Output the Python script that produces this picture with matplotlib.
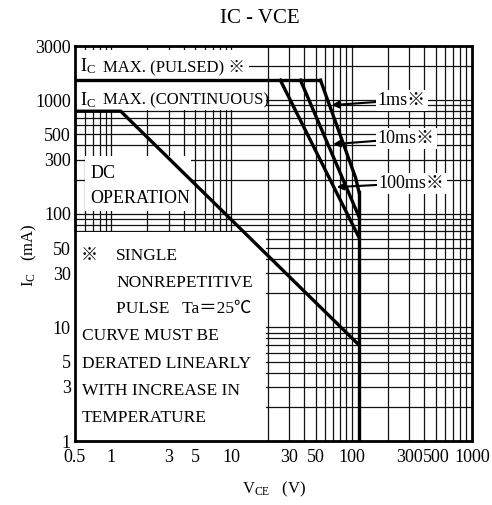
import matplotlib
matplotlib.use("Agg")
import matplotlib.pyplot as plt
import matplotlib.transforms as mtransforms
from matplotlib.ticker import LogLocator, FixedLocator, FixedFormatter, NullFormatter

FAM = ['Liberation Serif', 'Noto Sans CJK JP', 'DejaVu Sans']
plt.rcParams['font.family'] = FAM
plt.rcParams['mathtext.fontset'] = 'custom'
plt.rcParams['mathtext.rm'] = 'Liberation Serif'
plt.rcParams['mathtext.it'] = 'Liberation Serif'

# ---- data ----
x_ticks = [0.5, 1, 3, 5, 10, 30, 50, 100, 300, 500, 1000]
x_labels = ['0.5', '1', '3', '5', '10', '30', '50', '100', '300', '500', '1000']
y_ticks = [1, 3, 5, 10, 30, 50, 100, 300, 500, 1000, 3000]
y_labels = ['1', '3', '5', '10', '30', '50', '100', '300', '500', '1000', '3000']

dc_v = [0.5, 1.2, 115]
dc_i = [800, 800, 7]
pulse_v = [0.5, 55]
pulse_i = [1500, 1500]
ms100_v = [25.5, 115]
ms100_i = [1500, 62]
ms10_v = [37.5, 115]
ms10_i = [1500, 94]
ms1_v = [55, 108, 115]
ms1_i = [1500, 206, 155]
vmax_v = [115, 115]
vmax_i = [1, 155]

fig = plt.figure(figsize=(4.92, 5.05), dpi=100)
ax = fig.add_axes([0.1524, 0.1267, 0.9593 - 0.1524, 0.9089 - 0.1267])
ax.set_xscale('log')
ax.set_yscale('log')
ax.set_xlim(0.5, 1000)
ax.set_ylim(1, 3000)

ax.xaxis.set_major_locator(FixedLocator(x_ticks))
ax.xaxis.set_major_formatter(FixedFormatter(x_labels))
ax.yaxis.set_major_locator(FixedLocator(y_ticks))
ax.yaxis.set_major_formatter(FixedFormatter(y_labels))
ax.xaxis.set_minor_locator(LogLocator(base=10, subs=range(1, 10), numticks=20))
ax.yaxis.set_minor_locator(LogLocator(base=10, subs=range(1, 10), numticks=20))
ax.xaxis.set_minor_formatter(NullFormatter())
ax.yaxis.set_minor_formatter(NullFormatter())
ax.tick_params(which='both', length=0, labelsize=13)
ax.tick_params(axis='x', pad=6)
ax.tick_params(axis='y', pad=3)

ax.set_axisbelow(True)
ax.grid(which='both', color='#111111', linewidth=0.9)
for s in ax.spines.values():
    s.set_linewidth(2.0)

# white boxes masking the grid behind labels
def mask(x0, x1, y0, y1):
    ax.fill([x0, x1, x1, x0], [y0, y0, y1, y1], color='white', lw=0, zorder=1)

mask(0.5, 14, 1530, 2750)      # pulsed label
mask(0.5, 19.5, 820, 1480)     # continuous label
mask(0.6, 4.6, 105, 320)       # DC operation
mask(0.5, 19.5, 1, 69)         # note box

lw = 2.4
for v, i in [(dc_v, dc_i), (pulse_v, pulse_i), (ms100_v, ms100_i),
             (ms10_v, ms10_i), (ms1_v, ms1_i), (vmax_v, vmax_i)]:
    ax.plot(v, i, color='black', lw=lw, zorder=3, solid_joinstyle='miter')

fs = 13
fs_max = 12
fs_note = 12.5

def ic_label(x, y, rest):
    t1 = ax.text(x, y, r'$\mathrm{I_C}$', fontsize=13, va='baseline', ha='left', zorder=4)
    fig.canvas.draw()
    bb = t1.get_window_extent()
    trans = mtransforms.offset_copy(ax.transData, fig=fig,
                                    x=bb.width * 72 / fig.dpi + 5, y=0, units='points')
    ax.text(x, y, rest, transform=trans, fontsize=fs_max, va='baseline', ha='left', zorder=4)

ic_label(0.55, 1780, 'MAX. (PULSED) ※')
ic_label(0.55, 910, 'MAX. (CONTINUOUS)')

ax.text(0.67, 226, 'DC', fontsize=fs, va='center', ha='left', zorder=4)
ax.text(0.67, 136, 'OPERATION', fontsize=fs, va='center', ha='left', zorder=4)

note_y = [42.5, 24.8, 14.6, 8.4, 4.8, 2.75, 1.6]
ax.text(0.56, note_y[0], '※', fontsize=fs_note, va='center', ha='left', zorder=4)
ax.text(1.1, note_y[0], 'SINGLE', fontsize=fs_note, va='center', ha='left', zorder=4)
ax.text(1.1, note_y[1], 'NONREPETITIVE', fontsize=fs_note, va='center', ha='left', zorder=4)
ax.text(1.1, note_y[2], 'PULSE   Ta＝25℃', fontsize=fs_note, va='center', ha='left', zorder=4)
ax.text(0.57, note_y[3], 'CURVE MUST BE', fontsize=fs_note, va='center', ha='left', zorder=4)
ax.text(0.57, note_y[4], 'DERATED LINEARLY', fontsize=fs_note, va='center', ha='left', zorder=4)
ax.text(0.57, note_y[5], 'WITH INCREASE IN', fontsize=fs_note, va='center', ha='left', zorder=4)
ax.text(0.57, note_y[6], 'TEMPERATURE', fontsize=fs_note, va='center', ha='left', zorder=4)

bbox = dict(facecolor='white', edgecolor='none', pad=1.5)
for lab, xy_txt, xy_tip in [('1ms※', (165, 1000), (68, 905)),
                            ('10ms※', (165, 460), (70, 410)),
                            ('100ms※', (168, 186), (75, 172))]:
    ax.annotate(lab, xy=xy_tip, xytext=xy_txt, fontsize=fs, va='center', ha='left',
                bbox=bbox, zorder=5,
                arrowprops=dict(arrowstyle='-|>', color='black', lw=1.5,
                                mutation_scale=10, shrinkA=0, shrinkB=0))

fig.text(0.528, 0.964, 'IC - VCE', fontsize=15, ha='center', va='center')
fig.text(0.06, 0.495, r'$\mathrm{I_C}$   (mA)', fontsize=12, rotation=90, ha='center', va='center')
fig.text(0.557, 0.03, r'$\mathrm{V_{CE}}$   (V)', fontsize=12, ha='center', va='center')

fig.savefig('out.png', dpi=100)
